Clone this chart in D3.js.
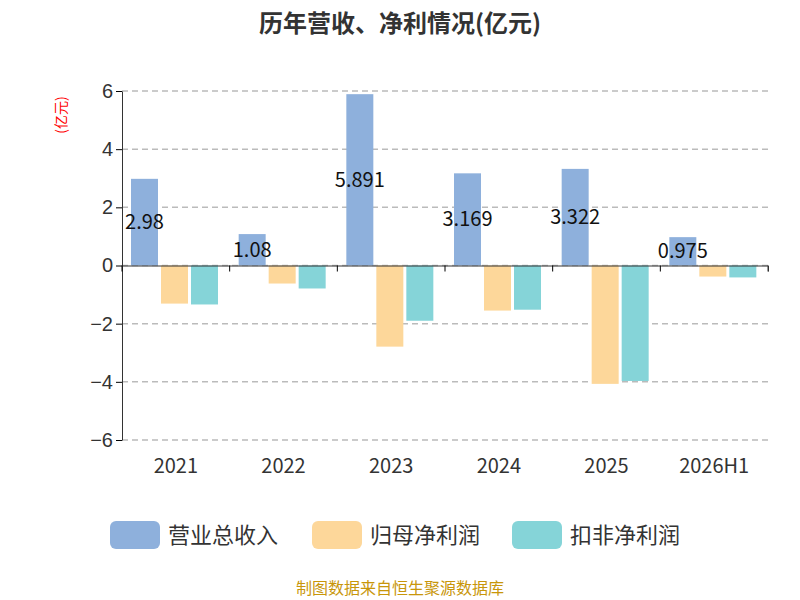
<!DOCTYPE html>
<html><head><meta charset="utf-8">
<script src="https://cdn.jsdelivr.net/npm/d3@7"></script>
<style>body{margin:0;background:#fff;font-family:"Noto Sans CJK SC","Noto Sans",sans-serif;}</style>
</head><body><svg id="c" width="800" height="600"></svg>
<script>
var years = ["2021", "2022", "2023", "2024", "2025", "2026H1"];
var revenue = [2.98, 1.08, 5.891, 3.169, 3.322, 0.975];
var netProfit = [-1.31, -0.62, -2.79, -1.55, -4.07, -0.38];
var deductedProfit = [-1.34, -0.79, -1.9, -1.52, -3.97, -0.41];
var seriesNames = ["营业总收入", "归母净利润", "扣非净利润"];
var colors = ["#8eb0dc", "#fdd79a", "#85d4d8"];
var ticks = [-6, -4, -2, 0, 2, 4, 6];

var svg = d3.select("#c");
var x = d3.scaleBand().domain(years).range([122, 768]);
var y = d3.scaleLinear().domain([-6, 6]).range([440, 91]);

svg.append("text").attr("x", 400).attr("y", 32).attr("text-anchor", "middle")
    .attr("font-size", 24).attr("font-weight", "bold").attr("fill", "#333").text("历年营收、净利情况(亿元)");

svg.append("g").selectAll("line").data(ticks).join("line")
    .attr("x1", 122).attr("x2", 768).attr("y1", d => y(d)).attr("y2", d => y(d))
    .attr("stroke", "#bbb").attr("stroke-dasharray", "6,4").attr("stroke-width", 1.5);

var yAxis = svg.append("g").attr("transform", "translate(122,0)")
    .call(d3.axisLeft(y).tickValues(ticks).tickSize(6).tickSizeOuter(0));
yAxis.selectAll("text").attr("font-size", 20).attr("fill", "#333");
yAxis.select(".domain").attr("stroke", "#333");

svg.append("text").attr("transform", "translate(66,115) rotate(-90)").attr("text-anchor", "middle")
    .attr("font-size", 14).attr("fill", "red").text("(亿元)");

var series = [revenue, netProfit, deductedProfit];
var bw = 27, gap = 3;
series.forEach(function (vals, si) {
    svg.append("g").selectAll("rect").data(vals).join("rect")
        .attr("x", (d, i) => x(years[i]) + 9 + si * (bw + gap))
        .attr("width", bw)
        .attr("y", d => y(Math.max(0, d)))
        .attr("height", d => Math.abs(y(d) - y(0)))
        .attr("fill", colors[si]);
});

svg.append("g").selectAll("text").data(revenue).join("text")
    .attr("x", (d, i) => x(years[i]) + 9 + bw / 2)
    .attr("y", d => (y(d) + y(0)) / 2 + 7)
    .attr("text-anchor", "middle").attr("font-size", 20).attr("fill", "#111")
    .text(d => d);

var xAxis = svg.append("g").attr("transform", "translate(0," + y(0) + ")")
    .call(d3.axisBottom(x).tickSize(6).tickFormat(""));
xAxis.select(".domain").attr("stroke", "#333");
xAxis.selectAll(".tick line").attr("transform", "translate(" + (-x.bandwidth() / 2) + ",0)");
svg.append("line").attr("x1", 768).attr("x2", 768).attr("y1", y(0)).attr("y2", y(0) + 6).attr("stroke", "#333");

svg.append("g").selectAll("text").data(years).join("text")
    .attr("x", d => x(d) + x.bandwidth() / 2).attr("y", 473)
    .attr("text-anchor", "middle").attr("font-size", 20).attr("fill", "#333").text(d => d);

var leg = svg.append("g");
var lx = [110, 312, 512];
seriesNames.forEach(function (n, i) {
    leg.append("rect").attr("x", lx[i]).attr("y", 521).attr("width", 50).attr("height", 28)
        .attr("rx", 6).attr("fill", colors[i]);
    leg.append("text").attr("x", lx[i] + 58).attr("y", 543).attr("font-size", 22)
        .attr("fill", "#333").text(n);
});

svg.append("text").attr("x", 400).attr("y", 594).attr("text-anchor", "middle")
    .attr("font-size", 16).attr("fill", "#c8960a").text("制图数据来自恒生聚源数据库");
</script></body></html>
